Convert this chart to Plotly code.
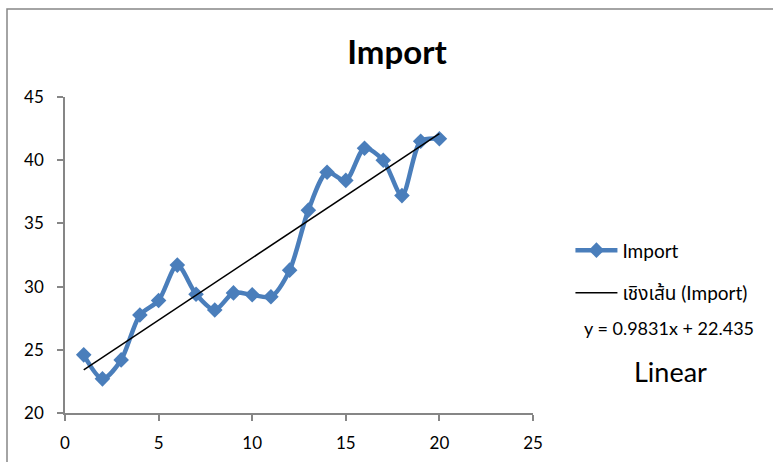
import plotly.graph_objects as go

# Import series, periods 1..20
periods = list(range(1, 21))
imports = [24.6, 22.7, 24.2, 27.75, 28.9, 31.7, 29.4, 28.15, 29.5, 29.35,
           29.2, 31.3, 36.05, 39.05, 38.4, 40.95, 40.0, 37.2, 41.5, 41.7]

# Linear trendline coefficients
slope = 0.9831
intercept = 22.435
trend_x = [periods[0], periods[-1]]
trend_y = [slope * x + intercept for x in trend_x]

x_ticks = [0, 5, 10, 15, 20, 25]
y_ticks = [20, 25, 30, 35, 40, 45]

FONT = "Lato, 'Noto Sans', 'Noto Sans Thai', sans-serif"
BLUE = "#4A7EBB"
AXIS = "#868686"

fig = go.Figure()
fig.add_trace(go.Scatter(
    x=periods, y=imports, name="Import", mode="lines+markers",
    line=dict(color=BLUE, width=4.5, shape="spline", smoothing=0.8),
    marker=dict(symbol="diamond", size=12, color=BLUE),
    legendgroup="a",
))
fig.add_trace(go.Scatter(
    x=trend_x, y=trend_y, name="เชิงเส้น (Import)", mode="lines",
    line=dict(color="black", width=1.5),
    legendgroup="b",
))

fig.update_layout(
    width=773, height=462,
    margin=dict(l=65, r=240, t=97, b=49, autoexpand=False),
    paper_bgcolor="white", plot_bgcolor="white",
    font=dict(family=FONT, size=17, color="black"),
    title=dict(text="<b>Import</b>", x=397 / 773, xanchor="center",
               xref="container", yref="container", y=1 - 52 / 462,
               yanchor="middle", font=dict(size=33, family=FONT)),
    showlegend=True,
    legend=dict(x=1.08, y=0.575, xanchor="left", yanchor="top",
                traceorder="grouped", tracegroupgap=15, itemwidth=42,
                font=dict(size=19, family=FONT), bgcolor="rgba(0,0,0,0)"),
    xaxis=dict(range=[0, 25], tickvals=x_ticks, showgrid=False, zeroline=False,
               showline=True, linecolor=AXIS, linewidth=1.5, automargin=False,
               ticks="outside", ticklen=6, tickcolor=AXIS, tickwidth=1.5,
               ticklabelstandoff=8),
    yaxis=dict(range=[20, 45], tickvals=y_ticks, showgrid=False, zeroline=False,
               showline=True, linecolor=AXIS, linewidth=1.5, automargin=False,
               ticks="outside", ticklen=6, tickcolor=AXIS, tickwidth=1.5,
               ticklabelstandoff=10),
    shapes=[dict(type="rect", xref="paper", yref="paper",
                 x0=(7 - 65) / 468, x1=(790 - 65) / 468,
                 y0=(413 - 480) / 316, y1=(413 - 9) / 316,
                 line=dict(color=AXIS, width=1.5), layer="below")],
    annotations=[
        dict(text="y = 0.9831x + 22.435", xref="paper", yref="paper",
             x=(669 - 65) / 468, y=(413 - 328) / 316, showarrow=False,
             xanchor="center", yanchor="middle", font=dict(size=18)),
        dict(text="Linear", xref="paper", yref="paper",
             x=(670 - 65) / 468, y=(413 - 371) / 316, showarrow=False,
             xanchor="center", yanchor="middle", font=dict(size=27)),
    ],
)

fig.write_html("out.html")
